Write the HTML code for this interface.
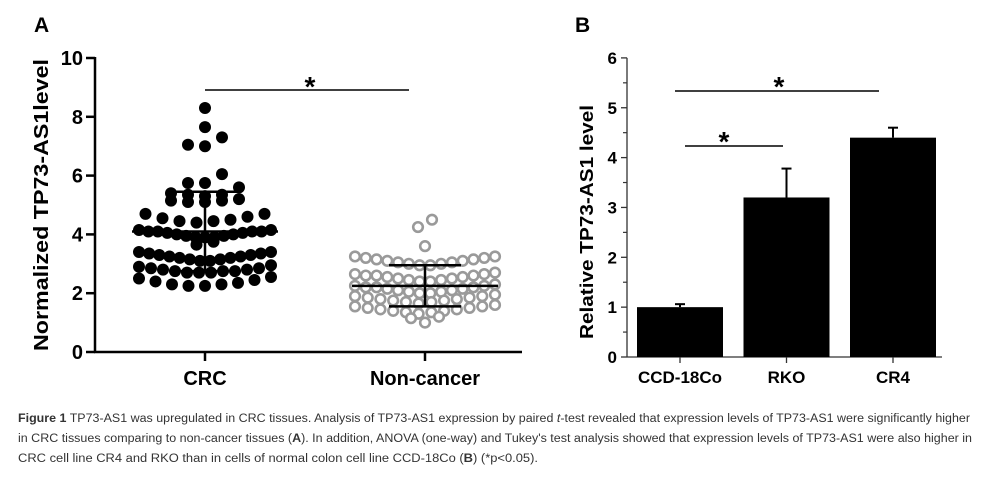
<!DOCTYPE html>
<html><head><meta charset="utf-8"><style>
html,body{margin:0;padding:0;background:#fff;}
svg{display:block;font-family:"Liberation Sans",Arial,sans-serif;}
</style></head><body>
<svg id="fig" width="984" height="487" viewBox="0 0 984 487">
<text x="34" y="32" font-size="21" font-weight="bold">A</text>
<text x="575" y="32" font-size="21" font-weight="bold">B</text>
<g id="pa"></g>
<g id="pb"></g>
<g fill="#333" font-size="11.5">
<text x="18" y="422" textLength="952" lengthAdjust="spacingAndGlyphs"><tspan font-weight="bold">Figure 1</tspan> TP73-AS1 was upregulated in CRC tissues. Analysis of TP73-AS1 expression by paired <tspan font-style="italic">t</tspan>-test revealed that expression levels of TP73-AS1 were significantly higher</text>
<text x="18" y="442" textLength="954" lengthAdjust="spacingAndGlyphs">in CRC tissues comparing to non-cancer tissues (<tspan font-weight="bold">A</tspan>). In addition, ANOVA (one-way) and Tukey's test analysis showed that expression levels of TP73-AS1 were also higher in</text>
<text x="18" y="462" textLength="520" lengthAdjust="spacingAndGlyphs">CRC cell line CR4 and RKO than in cells of normal colon cell line CCD-18Co (<tspan font-weight="bold">B</tspan>) (*p&lt;0.05).</text>
</g>
</svg>
<script>
var groupsA = ["CRC", "Non-cancer"];
var crcValues = [8.3,7.65,7.3,7.05,7.0,6.05,5.75,5.75,5.6,
  5.4,5.35,5.35,5.3,5.2,5.15,5.15,5.1,5.1,
  4.7,4.7,4.6,4.55,4.5,4.45,4.45,4.4,
  4.15,4.15,4.1,4.1,4.1,4.1,4.05,4.05,4.0,4.0,3.95,3.95,3.9,3.9,3.9,
  3.75,3.65,
  3.4,3.4,3.35,3.35,3.3,3.3,3.25,3.25,3.2,3.2,3.15,3.15,3.1,3.1,
  2.95,2.9,2.85,2.85,2.8,2.8,2.75,2.75,2.7,2.7,2.7,2.75,
  2.55,2.5,2.45,2.4,2.35,2.3,2.3,2.25,2.25];
var ncValues = [4.5,4.25,3.6,
  3.25,3.25,3.2,3.2,3.15,3.15,3.1,3.1,3.05,3.05,3.0,3.0,2.95,2.95,
  2.7,2.65,2.65,2.6,2.6,2.6,2.55,2.55,2.5,2.5,2.45,2.45,2.4,2.4,
  2.3,2.25,2.25,2.2,2.2,2.2,2.15,2.15,2.1,2.1,2.05,2.05,2.0,2.0,
  1.95,1.9,1.9,1.85,1.85,1.8,1.8,1.75,1.75,1.7,1.7,1.65,
  1.6,1.55,1.55,1.5,1.5,1.45,1.45,1.4,1.4,1.35,1.35,1.3,
  1.2,1.15,1.0];
var meansA = [4.1, 2.25];
var sdA = [1.35, 0.7];
var ticksA = [0,2,4,6,8,10];

var groupsB = ["CCD-18Co", "RKO", "CR4"];
var valuesB = [1.0, 3.2, 4.4];
var errB = [0.06, 0.58, 0.2];
var ticksB = [0,1,2,3,4,5,6];

var NS = "http://www.w3.org/2000/svg";
function mk(parent, tag, attrs, text) {
  var e = document.createElementNS(NS, tag);
  for (var k in attrs) e.setAttribute(k, attrs[k]);
  if (text !== undefined) e.textContent = text;
  parent.appendChild(e);
  return e;
}

/* Panel A */
var pa = document.getElementById('pa');
function yA(v) { return 352 - v * 29.4; }
function xA(i) { return 205 + i * 220; }
var el;
el = mk(pa, 'line', {x1:95, y1:yA(10)-1, x2:95, y2:353, stroke:'#000', 'stroke-width':2.5});
 
el = mk(pa, 'line', {x1:94, y1:352, x2:522, y2:352, stroke:'#000', 'stroke-width':2.5});
 
ticksA.forEach(function (t) {
  var y = yA(t);
  mk(pa, 'line', {x1:86, y1:y, x2:95, y2:y, stroke:'#000', 'stroke-width':2.5});
  el = mk(pa, 'text', {x:83, y:y + 7, 'font-size':20, 'font-weight':'bold', 'text-anchor':'end'}, String(t));
   
});
groupsA.forEach(function (g, i) {
  mk(pa, 'line', {x1:xA(i), y1:352, x2:xA(i), y2:361, stroke:'#000', 'stroke-width':2.5});
  el = mk(pa, 'text', {x:xA(i), y:385, 'font-size':20, 'font-weight':'bold', 'text-anchor':'middle'}, g);
   
});
el = mk(pa, 'text', {x:0, y:0, 'font-size':20, 'font-weight':'bold', 'text-anchor':'middle', textLength:292, lengthAdjust:'spacingAndGlyphs', transform:'translate(48,205) rotate(-90)'}, 'Normalized TP73-AS1level');
 

/* row layout: group values into horizontal rows, lowest value in the centre */
function rows(vals, cx, maxSpacing, maxWidth) {
  var sorted = vals.slice().sort(function (a, b) { return b - a; });
  var groups = [], cur = null;
  sorted.forEach(function (v) {
    if (!cur || cur[0] - v > 0.32) { cur = [v]; groups.push(cur); }
    else cur.push(v);
  });
  var out = [];
  groups.forEach(function (g) {
    var asc = g.slice().sort(function (a, b) { return a - b; });
    var n = asc.length, slots = [];
    var sp = n > 1 ? Math.min(maxSpacing, maxWidth / (n - 1)) : 0;
    for (var j = 0; j < n; j++) slots.push((j - (n - 1) / 2) * sp);
    slots.sort(function (a, b) { return Math.abs(a) - Math.abs(b) || a - b; });
    asc.forEach(function (v, j) { out.push({x: cx + slots[j], y: yA(v)}); });
  });
  return out;
}
rows(ncValues, xA(1), 14, 140).forEach(function (p) {
  el = mk(pa, 'circle', {cx:p.x, cy:p.y, r:4.8, fill:'#fff', stroke:'#9a9a9a', 'stroke-width':2.6});
   
});
rows(crcValues, xA(0), 17, 132).forEach(function (p) {
  el = mk(pa, 'circle', {cx:p.x, cy:p.y, r:6, fill:'#000'});
   
});
meansA.forEach(function (m, i) {
  var c = xA(i);
  el = mk(pa, 'g', {stroke:'#000', 'stroke-width':2.5});
   
  mk(el, 'line', {x1:c - 73, y1:yA(m), x2:c + 73, y2:yA(m)});
  mk(el, 'line', {x1:c, y1:yA(m + sdA[i]), x2:c, y2:yA(m - sdA[i])});
  mk(el, 'line', {x1:c - 36, y1:yA(m + sdA[i]), x2:c + 36, y2:yA(m + sdA[i])});
  mk(el, 'line', {x1:c - 36, y1:yA(m - sdA[i]), x2:c + 36, y2:yA(m - sdA[i])});
});
el = mk(pa, 'line', {x1:205, y1:90, x2:409, y2:90, stroke:'#000', 'stroke-width':1.5});
 
el = mk(pa, 'text', {x:310, y:96, 'font-size':28, 'font-weight':'bold', 'text-anchor':'middle'}, '*');
 

/* Panel B */
var pb = document.getElementById('pb');
function yB(v) { return 357 - v * 49.85; }
function xB(i) { return 680 + i * 106.5; }
el = mk(pb, 'line', {x1:627, y1:yB(6), x2:627, y2:357, stroke:'#333', 'stroke-width':1.3});
 
el = mk(pb, 'line', {x1:627, y1:357, x2:942, y2:357, stroke:'#333', 'stroke-width':1.3});
 
ticksB.forEach(function (t, i) {
  var y = yB(t);
  mk(pb, 'line', {x1:621, y1:y, x2:627, y2:y, stroke:'#333', 'stroke-width':1.3});
  if (i < ticksB.length - 1) mk(pb, 'line', {x1:623, y1:yB(t + 0.5), x2:627, y2:yB(t + 0.5), stroke:'#333', 'stroke-width':1.2});
  el = mk(pb, 'text', {x:617, y:y + 6, 'font-size':17, 'font-weight':'bold', 'text-anchor':'end'}, String(t));
   
});
groupsB.forEach(function (g, i) {
  var c = xB(i);
  mk(pb, 'line', {x1:c, y1:357, x2:c, y2:363, stroke:'#333', 'stroke-width':1.3});
  el = mk(pb, 'line', {x1:c, y1:yB(valuesB[i]), x2:c, y2:yB(valuesB[i] + errB[i]), stroke:'#000', 'stroke-width':2});
   
  mk(pb, 'line', {x1:c - 5, y1:yB(valuesB[i] + errB[i]), x2:c + 5, y2:yB(valuesB[i] + errB[i]), stroke:'#000', 'stroke-width':2});
  el = mk(pb, 'rect', {x:c - 43, y:yB(valuesB[i]), width:86, height:357 - yB(valuesB[i]), fill:'#000'});
   
  el = mk(pb, 'text', {x:c, y:383, 'font-size':17, 'font-weight':'bold', 'text-anchor':'middle'}, g);
   
});
el = mk(pb, 'text', {x:0, y:0, 'font-size':18, 'font-weight':'bold', 'text-anchor':'middle', textLength:234, lengthAdjust:'spacingAndGlyphs', transform:'translate(593,222) rotate(-90)'}, 'Relative TP73-AS1 level');
 
el = mk(pb, 'line', {x1:675, y1:91, x2:879, y2:91, stroke:'#000', 'stroke-width':1.5});
 
el = mk(pb, 'text', {x:779, y:96, 'font-size':28, 'font-weight':'bold', 'text-anchor':'middle'}, '*');
 
el = mk(pb, 'line', {x1:685, y1:146, x2:783, y2:146, stroke:'#000', 'stroke-width':1.5});
 
el = mk(pb, 'text', {x:724, y:151, 'font-size':28, 'font-weight':'bold', 'text-anchor':'middle'}, '*');
 
</script>
</body></html>
